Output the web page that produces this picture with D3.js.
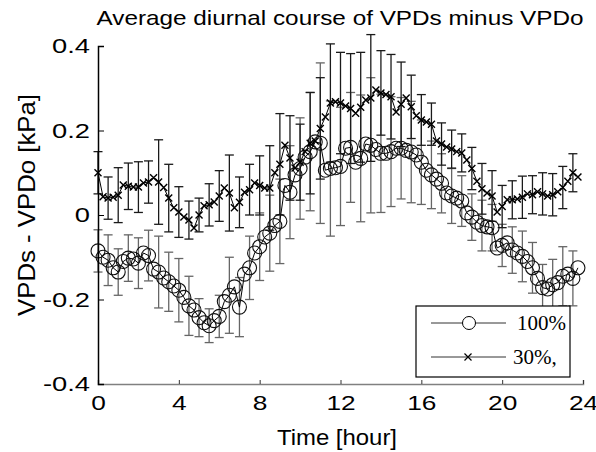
<!DOCTYPE html>
<html>
<head>
<meta charset="utf-8">
<script src="https://cdn.jsdelivr.net/npm/d3@7"></script>
<style>
  body { margin: 0; background: #fff; }
</style>
</head>
<body>
<div id="chart"></div>
<script>
// time of day, every 15 minutes
var hours = d3.range(96).map(function(i) { return i * 0.25; });

// VPDs - VPDo, 100% treatment (circles)
var vpd100 = [
  -0.085, -0.100, -0.107, -0.125, -0.135, -0.110, -0.102, -0.104,
  -0.114, -0.090, -0.096, -0.128, -0.135, -0.149, -0.158, -0.168,
  -0.178, -0.195, -0.215, -0.225, -0.243, -0.255, -0.262, -0.250,
  -0.240, -0.205, -0.190, -0.170, -0.218, -0.140, -0.125, -0.090,
  -0.075, -0.052, -0.043, -0.025, -0.015, 0.070, 0.054, 0.095,
  0.110, 0.137, 0.150, 0.173, 0.170, 0.106, 0.110, 0.112,
  0.115, 0.158, 0.160, 0.125, 0.134, 0.168, 0.165, 0.155,
  0.146, 0.146, 0.150, 0.158, 0.158, 0.153, 0.149, 0.142,
  0.125, 0.106, 0.095, 0.085, 0.075, 0.052, 0.045, 0.040,
  0.033, 0.005, -0.005, -0.017, -0.025, -0.028, -0.030, -0.078,
  -0.072, -0.066, -0.083, -0.090, -0.098, -0.110, -0.125, -0.150,
  -0.172, -0.175, -0.165, -0.160, -0.145, -0.140, -0.150, -0.125
];

// VPDs - VPDo, 30% treatment (crosses)
var vpd30 = [
  0.100, 0.043, 0.040, 0.042, 0.047, 0.071, 0.068, 0.066,
  0.066, 0.076, 0.078, 0.088, 0.078, 0.065, 0.040, 0.017,
  0.007, -0.005, -0.012, -0.031, 0.000, 0.022, 0.024, 0.031,
  0.045, 0.064, 0.052, 0.017, 0.030, 0.054, 0.060, 0.076,
  0.070, 0.064, 0.064, 0.100, 0.120, 0.165, 0.135, 0.111,
  0.125, 0.150, 0.170, 0.175, 0.205, 0.232, 0.265, 0.268,
  0.265, 0.258, 0.252, 0.241, 0.255, 0.272, 0.277, 0.296,
  0.289, 0.285, 0.280, 0.244, 0.262, 0.277, 0.256, 0.235,
  0.225, 0.220, 0.215, 0.175, 0.168, 0.161, 0.156, 0.150,
  0.147, 0.130, 0.110, 0.080, 0.062, 0.052, 0.045, 0.007,
  0.020, 0.036, 0.036, 0.038, 0.042, 0.050, 0.048, 0.055,
  0.050, 0.045, 0.048, 0.055, 0.065, 0.080, 0.100, 0.090
];

// standard deviations, drawn every half hour
var err100 = [
  0.050, 0.060, 0.055, 0.055, 0.060, 0.060, 0.085, 0.070,
  0.075, 0.070, 0.045, 0.040, 0.050, 0.090, 0.070, 0.075,
  0.080, 0.090, 0.100, 0.110, 0.120, 0.140, 0.190, 0.160,
  0.140, 0.130, 0.150, 0.160, 0.140, 0.130, 0.120, 0.120,
  0.100, 0.080, 0.070, 0.065, 0.060, 0.055, 0.060, 0.055,
  0.050, 0.055, 0.060, 0.060, 0.055, 0.060, 0.070, 0.065
];
var err30 = [
  0.050, 0.050, 0.065, 0.055, 0.060, 0.050, 0.100, 0.080,
  0.060, 0.045, 0.040, 0.050, 0.060, 0.090, 0.060, 0.060,
  0.070, 0.100, 0.120, 0.100, 0.090, 0.120, 0.120, 0.140,
  0.120, 0.130, 0.130, 0.150, 0.100, 0.100, 0.100, 0.075,
  0.060, 0.050, 0.050, 0.045, 0.045, 0.050, 0.060, 0.060,
  0.050, 0.045, 0.050, 0.045, 0.050, 0.050, 0.050, 0.045
];

var xTicks = [0, 4, 8, 12, 16, 20, 24];
var yTicks = [-0.4, -0.2, 0, 0.2, 0.4];
var seriesNames = ["100%", "30%,"];

var margin = {top: 46, right: 13, bottom: 68, left: 98},
    width = 596 - margin.left - margin.right,
    height = 452 - margin.top - margin.bottom;

var sans = "'Liberation Sans', Arial, sans-serif";
var serif = "'Liberation Serif', 'Times New Roman', serif";

// the exported figure is wider than a normal font
function stretch(sel, k) {
  sel.each(function() {
    var n = this.getComputedTextLength();
    d3.select(this).attr("textLength", n * k).attr("lengthAdjust", "spacingAndGlyphs");
  });
}

var svg = d3.select("#chart").append("svg")
    .attr("width", 596)
    .attr("height", 452);

var g = svg.append("g")
    .attr("transform", "translate(" + margin.left + "," + margin.top + ")");

var x = d3.scaleLinear().domain([0, 24]).range([0, width]);
var y = d3.scaleLinear().domain([-0.4, 0.4]).range([height, 0]);

// error bars
function errorBars(vals, errs, color) {
  var pts = errs.map(function(e, i) { return {t: hours[i * 2], v: vals[i * 2], e: e}; });
  var eg = g.append("g").attr("stroke", color).attr("stroke-width", 1.3).attr("fill", "none");
  eg.selectAll(".bar").data(pts).enter().append("line")
      .attr("x1", function(d) { return x(d.t); })
      .attr("x2", function(d) { return x(d.t); })
      .attr("y1", function(d) { return y(d.v + d.e); })
      .attr("y2", function(d) { return y(d.v - d.e); });
  [1, -1].forEach(function(s) {
    eg.selectAll(".cap" + s).data(pts).enter().append("line")
        .attr("x1", function(d) { return x(d.t) - 4.5; })
        .attr("x2", function(d) { return x(d.t) + 4.5; })
        .attr("y1", function(d) { return y(d.v + s * d.e); })
        .attr("y2", function(d) { return y(d.v + s * d.e); });
  });
}
errorBars(vpd100, err100, "#666");
errorBars(vpd30, err30, "#1a1a1a");

var line = d3.line()
    .x(function(d) { return x(d[0]); })
    .y(function(d) { return y(d[1]); });

[vpd100, vpd30].forEach(function(vals) {
  g.append("path")
      .datum(hours.map(function(h, i) { return [h, vals[i]]; }))
      .attr("fill", "none")
      .attr("stroke", "#000")
      .attr("stroke-width", 1)
      .attr("d", line);
});

// circle markers
g.selectAll(".c100").data(vpd100).enter().append("circle")
    .attr("cx", function(d, i) { return x(hours[i]); })
    .attr("cy", function(d) { return y(d); })
    .attr("r", 7)
    .attr("fill", "none")
    .attr("stroke", "#111")
    .attr("stroke-width", 1.1);

// cross markers
var cross = "M-3.5,-3.5L3.5,3.5M-3.5,3.5L3.5,-3.5";
g.selectAll(".c30").data(vpd30).enter().append("path")
    .attr("transform", function(d, i) { return "translate(" + x(hours[i]) + "," + y(d) + ")"; })
    .attr("d", cross)
    .attr("fill", "none")
    .attr("stroke", "#000")
    .attr("stroke-width", 1.4);

// axes, matlab style: ticks inside
var xAxis = g.append("g")
    .attr("transform", "translate(0," + height + ")")
    .call(d3.axisBottom(x).tickValues(xTicks).tickSize(-4).tickPadding(11).tickFormat(d3.format("d")));
xAxis.select(".domain").attr("stroke", "#808080").attr("stroke-width", 1.5);
xAxis.selectAll(".tick line").attr("stroke", "#333");
xAxis.selectAll(".tick text").attr("font-size", 21).attr("font-family", sans).attr("fill", "#000");

var yAxis = g.append("g")
    .call(d3.axisLeft(y).tickValues(yTicks).tickSize(-6).tickPadding(8)
      .tickFormat(function(d) { return d === 0 ? "0" : d.toFixed(1); }));
yAxis.select(".domain").attr("stroke", "#000").attr("stroke-width", 1.5);
yAxis.selectAll(".tick text").attr("font-size", 21).attr("font-family", sans).attr("fill", "#000");

xAxis.selectAll(".tick text").call(stretch, 1.25);
yAxis.selectAll(".tick text").call(stretch, 1.3);

// title and labels
svg.append("text")
    .attr("x", 340).attr("y", 25)
    .attr("text-anchor", "middle")
    .attr("font-family", sans)
    .attr("font-size", 21)
    .text("Average diurnal course of VPDs minus VPDo")
    .attr("textLength", 487).attr("lengthAdjust", "spacingAndGlyphs");

svg.append("text")
    .attr("x", 337).attr("y", 445)
    .attr("text-anchor", "middle")
    .attr("font-family", sans)
    .attr("font-size", 22)
    .text("Time [hour]")
    .attr("textLength", 120).attr("lengthAdjust", "spacingAndGlyphs");

svg.append("text")
    .attr("transform", "translate(35,205) rotate(-90)")
    .attr("text-anchor", "middle")
    .attr("font-family", sans)
    .attr("font-size", 24)
    .text("VPDs - VPDo [kPa]")
    .attr("textLength", 222).attr("lengthAdjust", "spacingAndGlyphs");

// legend
var lg = svg.append("g").attr("transform", "translate(416,306)");
lg.append("rect")
    .attr("width", 154).attr("height", 71)
    .attr("fill", "#fff").attr("stroke", "#000").attr("stroke-width", 1.2);
seriesNames.forEach(function(name, i) {
  var ly = 17 + i * 34;
  lg.append("line").attr("x1", 15).attr("x2", 90).attr("y1", ly).attr("y2", ly)
      .attr("stroke", "#333").attr("stroke-width", 1);
  if (i === 0) {
    lg.append("circle").attr("cx", 53).attr("cy", ly).attr("r", 6.5)
        .attr("fill", "#fff").attr("stroke", "#000").attr("stroke-width", 1);
  } else {
    lg.append("path").attr("transform", "translate(52," + ly + ")").attr("d", cross)
        .attr("fill", "none").attr("stroke", "#000").attr("stroke-width", 1.2);
  }
  lg.append("text")
      .attr("x", i === 0 ? 101 : 97).attr("y", ly + 7)
      .attr("font-family", serif)
      .attr("font-size", 21)
      .text(name);
});
</script>
</body>
</html>
